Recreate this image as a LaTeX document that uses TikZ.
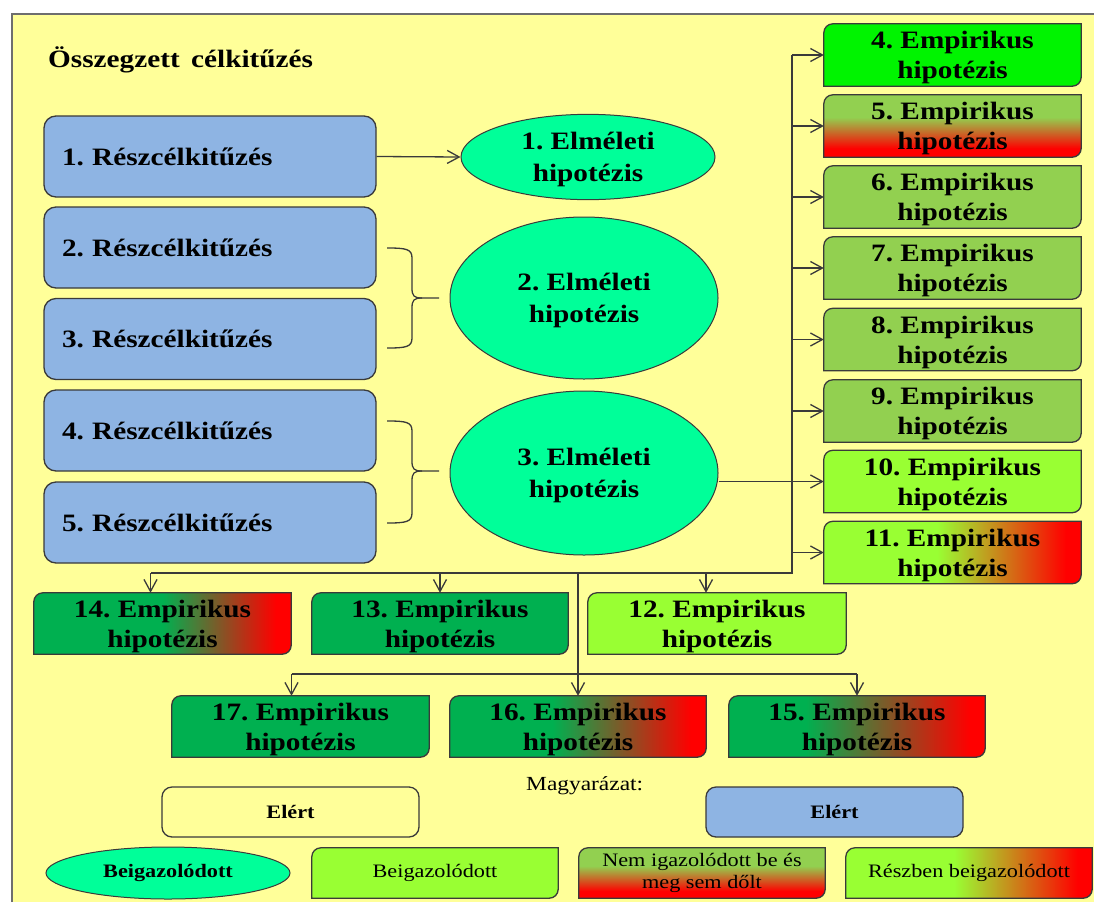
\documentclass[tikz,border=0pt]{standalone}
\usepackage{fontspec}
\setmainfont{Liberation Serif}[FakeStretch=1.17]
\usetikzlibrary{shapes.geometric,arrows.meta,calc}
\frenchspacing

\definecolor{bgy}{HTML}{FFFF99}
\definecolor{frm}{HTML}{6E6E6E}
\definecolor{bl}{HTML}{8EB4E3}
\definecolor{sg}{HTML}{00FF99}
\definecolor{brt}{HTML}{00F400}
\definecolor{og}{HTML}{92D050}
\definecolor{lm}{HTML}{99FF33}
\definecolor{dg}{HTML}{00B050}
\definecolor{rd}{HTML}{FF0000}
\definecolor{ln}{HTML}{3A3A3A}

\pgfdeclareverticalshading{vOgRd}{100bp}{color(0bp)=(rd); color(32bp)=(rd); color(57bp)=(og); color(100bp)=(og)}
\pgfdeclarehorizontalshading{hLmRd}{100bp}{color(0bp)=(lm); color(47bp)=(lm); color(72bp)=(rd); color(100bp)=(rd)}
\pgfdeclarehorizontalshading{hDgRdA}{100bp}{color(0bp)=(dg); color(50bp)=(dg); color(72bp)=(rd); color(100bp)=(rd)}
\pgfdeclarehorizontalshading{hDgRdB}{100bp}{color(0bp)=(dg); color(40bp)=(dg); color(72bp)=(rd); color(100bp)=(rd)}
\pgfdeclarehorizontalshading{hDgRdC}{100bp}{color(0bp)=(dg); color(45bp)=(dg); color(72bp)=(rd); color(100bp)=(rd)}

\pgfdeclarelayer{back}
\pgfdeclarelayer{shapes}
\pgfsetlayers{back,shapes,main}

\newcommand{\diagshape}[2]{%
  \path[#2] (#1.south west) -- ($(#1.north west)+(0,9)$)
    .. controls ($(#1.north west)+(0,4)$) and ($(#1.north west)+(4,0)$) .. ($(#1.north west)+(9,0)$)
    -- (#1.north east) -- ($(#1.south east)+(0,-9)$)
    .. controls ($(#1.south east)+(0,-4)$) and ($(#1.south east)+(-4,0)$) .. ($(#1.south east)+(-9,0)$)
    -- cycle;}
\newcommand{\tup}{\rule{0pt}{23pt}}

\tikzset{
  bigfont/.style={font=\fontsize{25}{30}\selectfont\bfseries},
  rb/.style={bigfont, draw=ln, line width=1.3pt, fill=bl, rounded corners=12pt,
     text width=296pt, inner xsep=18pt, inner ysep=0pt, minimum height=81pt, align=left},
  el/.style={font=\fontsize{25}{32}\selectfont\bfseries, ellipse, draw=ln, line width=1pt, fill=sg, inner sep=0pt, align=center},
  hb/.style={bigfont, align=center, inner sep=0pt, minimum width=257pt, minimum height=62pt},
  bd/.style={draw=ln, line width=1.3pt},
  cn/.style={draw=ln, line width=1.3pt},
  arr/.style={draw=ln, line width=1.3pt, -{Straight Barb[length=12pt,width=13pt]}},
  brc/.style={draw=ln, line width=1.3pt},
  lgb/.style={font=\fontsize{19}{22}\selectfont\bfseries, draw=ln, line width=1.3pt, rounded corners=10pt,
     minimum width=257pt, minimum height=50pt, inner sep=0pt},
  lgd/.style={font=\fontsize{19}{22}\selectfont, align=center, inner sep=0pt, minimum width=246pt, minimum height=50pt}
}

\begin{document}
\begin{tikzpicture}[x=1pt,y=-1pt]
\useasboundingbox (0,0) rectangle (1094,902);
\begin{pgfonlayer}{back}
  \fill[bgy] (12,14) rectangle (1094,902);
  \draw[frm, line width=2pt] (12,902) -- (12,14) -- (1094,14);
\end{pgfonlayer}

% title
\node[bigfont, anchor=base west, inner sep=0pt] (title) at (48,67) {Összegzett\, célkitűzés};

% left boxes
\node[rb] (r1) at (210,156.5) {1. Részcélkitűzés};
\node[rb] (r2) at (210,247.5) {2. Részcélkitűzés};
\node[rb] (r3) at (210,339) {3. Részcélkitűzés};
\node[rb] (r4) at (210,430.5) {4. Részcélkitűzés};
\node[rb] (r5) at (210,522.5) {5. Részcélkitűzés};

% ellipses
\node[el, minimum width=254pt, minimum height=82pt] (h1) at (588,157) {\tup 1. Elméleti\\hipotézis};
\node[el, minimum width=268pt, minimum height=162pt] (h2) at (584,298) {\tup 2. Elméleti\\hipotézis};
\node[el, minimum width=268pt, minimum height=164pt] (h3) at (584,473) {\tup 3. Elméleti\\hipotézis};

% braces
\draw[brc] (387,248) .. controls (406,248) and (412,249) .. (412,258) -- (412,288)
  .. controls (412,296) and (414,298) .. (422,298) -- (439,298);
\draw[brc] (422,298) .. controls (414,298) and (412,300) .. (412,308) -- (412,338)
  .. controls (412,347) and (406,348) .. (387,348);
\draw[brc] (387,421) .. controls (406,421) and (412,422) .. (412,431) -- (412,461)
  .. controls (412,469) and (414,471) .. (422,471) -- (439,471);
\draw[brc] (422,471) .. controls (414,471) and (412,473) .. (412,481) -- (412,513)
  .. controls (412,522) and (406,523) .. (387,523);

% right column hypotheses
\node[hb] (e4) at (952.5,55) {\tup 4. Empirikus\\hipotézis};
\node[hb] (e5) at (952.5,126) {\tup 5. Empirikus\\hipotézis};
\node[hb] (e6) at (952.5,197) {\tup 6. Empirikus\\hipotézis};
\node[hb] (e7) at (952.5,268) {\tup 7. Empirikus\\hipotézis};
\node[hb] (e8) at (952.5,339.5) {\tup 8. Empirikus\\hipotézis};
\node[hb] (e9) at (952.5,411) {\tup 9. Empirikus\\hipotézis};
\node[hb] (e10) at (952.5,481.5) {\tup 10. Empirikus\\hipotézis};
\node[hb] (e11) at (952.5,552.5) {\tup 11. Empirikus\\hipotézis};

% bottom rows
\node[hb, minimum height=61pt] (e14) at (162.5,623.5) {\tup 14. Empirikus\\hipotézis};
\node[hb, minimum height=61pt, minimum width=256pt] (e13) at (440,623.5) {\tup 13. Empirikus\\hipotézis};
\node[hb, minimum height=61pt, minimum width=258pt] (e12) at (717,623.5) {\tup 12. Empirikus\\hipotézis};
\node[hb, minimum height=61pt] (e17) at (300.5,726.5) {\tup 17. Empirikus\\hipotézis};
\node[hb, minimum height=61pt, minimum width=256pt] (e16) at (578,726.5) {\tup 16. Empirikus\\hipotézis};
\node[hb, minimum height=61pt, minimum width=256pt] (e15) at (857,726.5) {\tup 15. Empirikus\\hipotézis};

% legend
\node[font=\fontsize{20}{24}\selectfont, anchor=base west, inner sep=0pt] (mg) at (526,790) {Magyarázat:};
\node[lgb, fill=bgy] (l1) at (290.5,812) {Elért};
\node[lgb, fill=bl] (l2) at (834.5,812) {Elért};
\node[ellipse, draw=ln, line width=1pt, fill=sg, minimum width=244pt, minimum height=52pt, inner sep=0pt,
  font=\fontsize{19}{22}\selectfont\bfseries] (l3) at (168,873) {Beigazolódott};
\node[lgd] (l4) at (435,873) {Beigazolódott};
\node[lgd] (l5) at (702,873) {Nem igazolódott be és\\meg sem dőlt};
\node[lgd] (l6) at (969,873) {Részben beigazolódott};

\begin{pgfonlayer}{shapes}
  \diagshape{e4}{fill=brt,bd}
  \diagshape{e5}{shade,shading=vOgRd,bd}
  \diagshape{e6}{fill=og,bd}
  \diagshape{e7}{fill=og,bd}
  \diagshape{e8}{fill=og,bd}
  \diagshape{e9}{fill=og,bd}
  \diagshape{e10}{fill=lm,bd}
  \diagshape{e11}{shade,shading=hLmRd,bd}
  \diagshape{e12}{fill=lm,bd}
  \diagshape{e13}{fill=dg,bd}
  \diagshape{e14}{shade,shading=hDgRdA,bd}
  \diagshape{e15}{shade,shading=hDgRdB,bd}
  \diagshape{e16}{shade,shading=hDgRdC,bd}
  \diagshape{e17}{fill=dg,bd}
  \diagshape{l4}{fill=lm,bd}
  \diagshape{l5}{shade,shading=vOgRd,bd}
  \diagshape{l6}{shade,shading=hLmRd,bd}
\end{pgfonlayer}

% connectors
\coordinate (busx) at (792,0);
\coordinate (bb) at (792,573);
\coordinate (rw) at (578,674);
\coordinate (a14) at ([xshift=-12pt]e14.north);
\coordinate (a12) at ([xshift=-11pt]e12.north);
\coordinate (a17) at ([xshift=-9pt]e17.north);

\draw[arr] (r1.east) -- (h1.west);
\draw[arr] (h3.east |- e10.west) -- (e10.west);
\draw[cn] (busx |- e4.west) -- (bb) -- (a14 |- bb);
\foreach \k in {4,5,6,7,8,9,11}{
  \draw[arr] (busx |- e\k.west) -- (e\k.west);
}
\draw[arr] (a14 |- bb) -- (a14);
\draw[arr] (e13.north |- bb) -- (e13.north);
\draw[arr] (a12 |- bb) -- (a12);
\draw[arr] (e16.north |- bb) -- (e16.north);
\draw[cn] (a17 |- rw) -- (e15.north |- rw);
\draw[arr] (a17 |- rw) -- (a17);
\draw[arr] (e15.north |- rw) -- (e15.north);
\end{tikzpicture}
\end{document}
